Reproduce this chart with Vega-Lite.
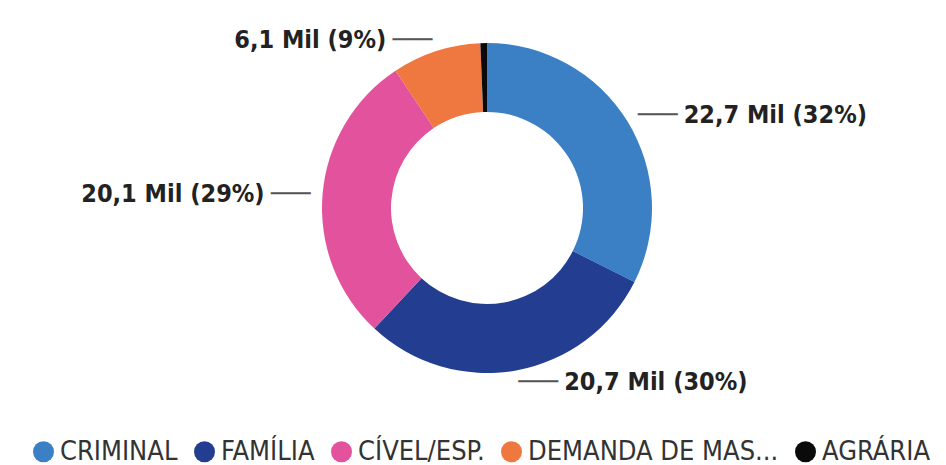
{
  "$schema": "https://vega.github.io/schema/vega-lite/v6.json",
  "width": 918,
  "height": 416,
  "autosize": {"type": "none"},
  "padding": {"left": 28, "top": 0, "right": 0, "bottom": 49},
  "background": "white",
  "config": {"view": {"stroke": null}},
  "data": {
    "values": [
      {"idx": 1, "cat": "CRIMINAL", "value": 22.7, "label": "22,7 Mil (32%)"},
      {"idx": 2, "cat": "FAMÍLIA", "value": 20.7, "label": "20,7 Mil (30%)"},
      {"idx": 3, "cat": "CÍVEL/ESP.", "value": 20.1, "label": "20,1 Mil (29%)"},
      {"idx": 4, "cat": "DEMANDA DE MASSA", "value": 6.1, "label": "6,1 Mil (9%)"},
      {"idx": 5, "cat": "AGRÁRIA", "value": 0.45, "label": ""}
    ]
  },
  "encoding": {
    "theta": {"field": "value", "type": "quantitative", "stack": true},
    "order": {"field": "idx", "type": "quantitative"}
  },
  "layer": [
    {
      "mark": {"type": "arc", "innerRadius": 96, "outerRadius": 165},
      "encoding": {
        "color": {
          "field": "cat",
          "type": "nominal",
          "sort": ["CRIMINAL", "FAMÍLIA", "CÍVEL/ESP.", "DEMANDA DE MASSA", "AGRÁRIA"],
          "scale": {
            "domain": ["CRIMINAL", "FAMÍLIA", "CÍVEL/ESP.", "DEMANDA DE MASSA", "AGRÁRIA"],
            "range": ["#3b80c5", "#233e90", "#e3529d", "#ef7740", "#0a0a0a"]
          },
          "legend": {
            "title": null,
            "orient": "none",
            "direction": "horizontal",
            "columns": 5,
            "legendX": 2,
            "legendY": 438,
            "padding": 0,
            "symbolType": "circle",
            "symbolSize": 440,
            "symbolStrokeWidth": 0,
            "symbolOpacity": 1,
            "labelFont": "DejaVu Sans Condensed, Roboto, sans-serif",
            "labelFontSize": 27,
            "labelColor": "#333333",
            "labelLimit": 400,
            "labelOffset": 3,
            "columnPadding": 13,
            "labelExpr": "datum.label == 'DEMANDA DE MASSA' ? 'DEMANDA DE MAS...' : datum.label"
          }
        }
      }
    },
    {
      "mark": {"type": "text", "radius": 177, "align": "left", "baseline": "middle", "fontSize": 22, "font": "DejaVu Sans", "color": "#555555"},
      "encoding": {
        "text": {"condition": {"test": "datum.idx <= 2", "value": "───"}, "value": ""}
      }
    },
    {
      "mark": {"type": "text", "radius": 177, "align": "right", "baseline": "middle", "fontSize": 22, "font": "DejaVu Sans", "color": "#555555"},
      "encoding": {
        "text": {"condition": {"test": "datum.idx == 3 || datum.idx == 4", "value": "───"}, "value": ""}
      }
    },
    {
      "mark": {"type": "text", "radius": 177, "align": "left", "baseline": "middle", "dx": 46, "fontSize": 25, "fontWeight": "bold", "font": "DejaVu Sans Condensed, Roboto, sans-serif", "color": "#222222"},
      "encoding": {
        "text": {"condition": {"test": "datum.idx <= 2", "field": "label"}, "value": ""}
      }
    },
    {
      "mark": {"type": "text", "radius": 177, "align": "right", "baseline": "middle", "dx": -46, "fontSize": 25, "fontWeight": "bold", "font": "DejaVu Sans Condensed, Roboto, sans-serif", "color": "#222222"},
      "encoding": {
        "text": {"condition": {"test": "datum.idx == 3 || datum.idx == 4", "field": "label"}, "value": ""}
      }
    }
  ]
}
